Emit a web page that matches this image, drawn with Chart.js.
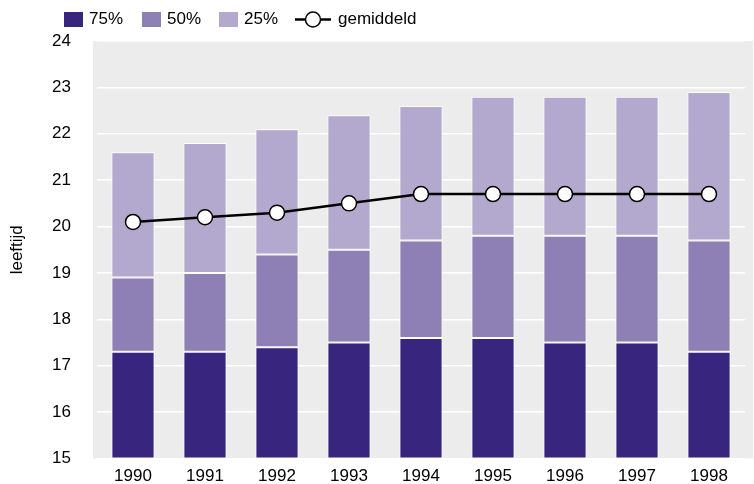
<!DOCTYPE html>
<html>
<head>
<meta charset="utf-8">
<script src="https://cdn.jsdelivr.net/npm/chart.js@4"></script>
<style>
html,body{margin:0;padding:0;background:#fff;}
#wrap{width:754px;height:484px;}
</style>
</head>
<body>
<div id="wrap"><canvas id="c" width="754" height="484"></canvas></div>
<script>
const years = ['1990','1991','1992','1993','1994','1995','1996','1997','1998'];
const p75 = [17.3,17.3,17.4,17.5,17.6,17.6,17.5,17.5,17.3];
const p50 = [18.9,19.0,19.4,19.5,19.7,19.8,19.8,19.8,19.7];
const p25 = [21.6,21.8,22.1,22.4,22.6,22.8,22.8,22.8,22.9];
const gemiddeld = [20.1,20.2,20.3,20.5,20.7,20.7,20.7,20.7,20.7];
const yMin = 15, yMax = 24;
const labels = ['75%','50%','25%','gemiddeld'];
const colors = ['#38257d','#8e80b4','#b3a9ce'];

const FONT = 'Liberation Sans, Arial, sans-serif';

const bgPlugin = {
  id:'bg',
  beforeDraw(chart){
    const {ctx, chartArea:a} = chart;
    ctx.save();
    ctx.fillStyle = '#ececec';
    ctx.fillRect(93, a.top, 753-93, a.bottom-a.top);
    ctx.restore();
  }
};

const legendPlugin = {
  id:'customLegend',
  afterDraw(chart){
    const ctx = chart.ctx;
    ctx.save();
    ctx.font = '17px ' + FONT;
    ctx.textBaseline = 'middle';
    ctx.fillStyle = '#000';
    const cy = 19.5;
    const boxX = [64,142,219];
    for (let i=0;i<3;i++){
      ctx.fillStyle = chart.data.datasets[i].backgroundColor;
      ctx.fillRect(boxX[i], 12, 19, 15);
      ctx.fillStyle = '#000';
      ctx.fillText(chart.data.datasets[i].label, boxX[i]+25, cy);
    }
    ctx.strokeStyle = '#000';
    ctx.lineWidth = 2.5;
    ctx.beginPath(); ctx.moveTo(295, cy); ctx.lineTo(331, cy); ctx.stroke();
    ctx.beginPath(); ctx.arc(313, cy, 7.5, 0, Math.PI*2);
    ctx.fillStyle = '#fff'; ctx.fill();
    ctx.lineWidth = 1.5; ctx.stroke();
    ctx.fillStyle = '#000';
    ctx.fillText(chart.data.datasets[3].label, 338, cy);
    ctx.restore();
  }
};

const barCommon = {type:'bar', grouped:false, barPercentage:0.6, categoryPercentage:1.0, borderColor:'#ffffff', borderWidth:1, borderSkipped:false, order:2};

new Chart(document.getElementById('c'), {
  data:{
    labels: years,
    datasets:[
      Object.assign({label:labels[0], data: p75.map(v=>[yMin, v]), backgroundColor: colors[0]}, barCommon),
      Object.assign({label:labels[1], data: p50.map((v,i)=>[p75[i], v]), backgroundColor: colors[1]}, barCommon),
      Object.assign({label:labels[2], data: p25.map((v,i)=>[p50[i], v]), backgroundColor: colors[2]}, barCommon),
      {type:'line', label:labels[3], data: gemiddeld, borderColor:'#000', borderWidth:2.5,
       pointRadius:7.5, pointHoverRadius:7.5, pointBackgroundColor:'#fff', pointBorderColor:'#000', pointBorderWidth:1.5,
       tension:0, fill:false, order:1}
    ]
  },
  options:{
    responsive:false,
    animation:false,
    devicePixelRatio:1,
    layout:{padding:{top:41, right:3, left:0, bottom:0}},
    plugins:{legend:{display:false}, tooltip:{enabled:false}},
    scales:{
      x:{
        grid:{display:false, drawTicks:false},
        border:{display:false},
        ticks:{color:'#000', font:{family:FONT, size:17}, padding:8, maxRotation:0},
        afterFit(s){ s.height = 25.5; s.paddingLeft = 0; s.paddingRight = 0; }
      },
      y:{
        min:yMin, max:yMax,
        grid:{color:'#ffffff', lineWidth:1.5, drawTicks:false},
        border:{display:false},
        ticks:{stepSize:1, color:'#000', font:{family:FONT, size:17}, padding:26},
        title:{display:true, text:'leeftijd', color:'#000', font:{family:FONT, size:17}, padding:{top:7,bottom:0}},
        afterFit(s){ s.width = 97; s.paddingTop = 0; s.paddingBottom = 0; }
      }
    }
  },
  plugins:[bgPlugin, legendPlugin]
});
</script>
</body>
</html>
